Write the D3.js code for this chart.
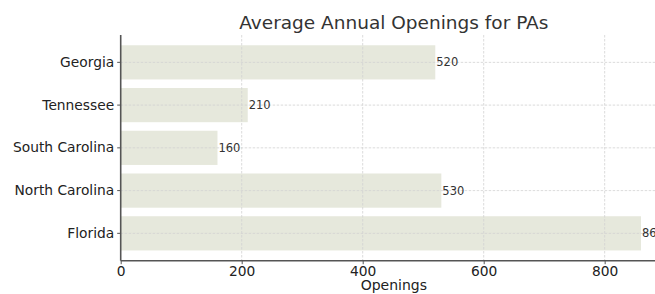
<!DOCTYPE html>
<html>
<head>
<meta charset="utf-8">
<script src="https://cdn.jsdelivr.net/npm/d3@7"></script>
<style>
  body { margin: 0; background: #fff; }
  svg { display: block; font-family: "DejaVu Sans", sans-serif; }
</style>
</head>
<body>
<svg id="chart"></svg>
<script>
// data, bottom to top
const states = ["Florida", "North Carolina", "South Carolina", "Tennessee", "Georgia"];
const openings = [860, 530, 160, 210, 520];
const xTicks = [0, 200, 400, 600, 800];

const width = 655, height = 294;
const plotLeft = 120.7, plotRight = 667, plotTop = 35, plotBottom = 260.7;

const svg = d3.select("#chart").attr("width", width).attr("height", height);

const x = d3.scaleLinear().domain([0, 903]).range([plotLeft, plotRight]);
const y = d3.scaleBand().domain(states).range([plotBottom, plotTop])
  .paddingInner(0.2).paddingOuter(0.24);

// bars
svg.append("g").selectAll("rect").data(states).enter().append("rect")
  .attr("x", x(0))
  .attr("y", d => y(d))
  .attr("width", (d, i) => x(openings[i]) - x(0))
  .attr("height", y.bandwidth())
  .attr("fill", "#e6e8dc");

// grid, drawn over the bars
svg.append("g").selectAll("line").data(states).enter().append("line")
  .attr("x1", plotLeft).attr("x2", plotRight)
  .attr("y1", d => y(d) + y.bandwidth() / 2).attr("y2", d => y(d) + y.bandwidth() / 2)
  .attr("stroke", "#d2d2d2").attr("stroke-width", 0.8).attr("stroke-dasharray", "2.5,1.5");
svg.append("g").selectAll("line").data(xTicks.slice(1)).enter().append("line")
  .attr("x1", d => x(d)).attr("x2", d => x(d))
  .attr("y1", plotTop).attr("y2", plotBottom)
  .attr("stroke", "#d2d2d2").attr("stroke-width", 0.8).attr("stroke-dasharray", "2.5,1.5");

// value labels (Florida's runs off the page, as in the original)
svg.append("g").selectAll("text").data(states).enter().append("text")
  .attr("x", (d, i) => x(openings[i]) + 1)
  .attr("y", d => y(d) + y.bandwidth() / 2)
  .attr("dy", "0.35em")
  .attr("font-size", 11.5)
  .attr("fill", "#333")
  .text((d, i) => openings[i]);

// axes
const xAxis = svg.append("g").attr("transform", `translate(0,${plotBottom})`)
  .call(d3.axisBottom(x).tickValues(xTicks).tickSize(3.5).tickPadding(2.5));
const yAxis = svg.append("g").attr("transform", `translate(${plotLeft},0)`)
  .call(d3.axisLeft(y).tickSize(3.5).tickPadding(3));

[xAxis, yAxis].forEach(a => {
  a.select(".domain").attr("stroke", "#555").attr("stroke-width", 1.6);
  a.selectAll(".tick line").attr("stroke", "#555");
  a.selectAll("text").attr("fill", "#222").attr("font-size", 13.8)
    .attr("font-family", "DejaVu Sans, sans-serif");
});
yAxis.select(".domain").attr("d", `M0,${plotTop}V${plotBottom}`);
xAxis.select(".domain").attr("d", `M${plotLeft},0H${plotRight}`);

// axis title
svg.append("text")
  .attr("x", (plotLeft + plotRight) / 2).attr("y", 290)
  .attr("text-anchor", "middle").attr("font-size", 14).attr("fill", "#222")
  .text("Openings");

// title
svg.append("text")
  .attr("x", (plotLeft + plotRight) / 2).attr("y", 29)
  .attr("text-anchor", "middle").attr("font-size", 18.5).attr("fill", "#333")
  .text("Average Annual Openings for PAs");
</script>
</body>
</html>
